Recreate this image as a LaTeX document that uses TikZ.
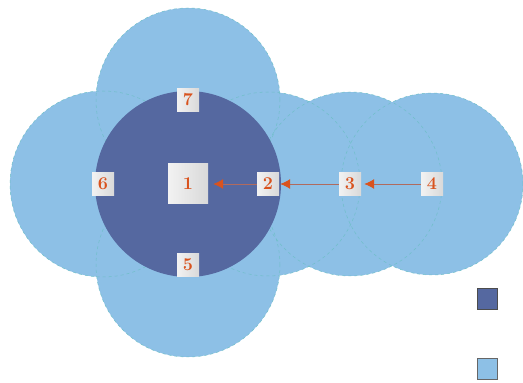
\documentclass[tikz,border=0pt]{standalone}
\usepackage{xcolor}
\usetikzlibrary{arrows.meta}
\definecolor{cellblue}{HTML}{8DC0E6}
\definecolor{cellrim}{HTML}{6FBFC8}
\definecolor{coreblue}{HTML}{5568A0}
\definecolor{numred}{HTML}{D9531E}
\definecolor{linkred}{HTML}{B06A5E}
\begin{document}
\begin{tikzpicture}[x=1pt,y=1pt,
  lbl/.style={inner sep=0pt,minimum width=22pt,minimum height=23pt,
    left color=gray!10,right color=gray!30,text=numred,
    font=\fontsize{18}{20}\selectfont\bfseries},
  hub/.style={lbl,minimum width=40pt,minimum height=40pt},
  link/.style={draw=linkred,line width=0.9pt,shorten >=3pt,
    -{Latex[length=10pt,width=10pt,color=numred]}},
  rim/.style={draw=cellrim,dashed,line width=0.5pt}]
  \useasboundingbox (0,0) rectangle (523,383);
  % cell centres
  \coordinate (p1) at (188,199);
  \coordinate (p2) at (268,199);
  \coordinate (p3) at (350,199);
  \coordinate (p4) at (432,199);
  \coordinate (p5) at (188,118);
  \coordinate (p6) at (103,199);
  \coordinate (p7) at (188,283);
  % neighbour cells
  \fill[cellblue] (p7) circle (92);
  \fill[cellblue] (p5) circle (92);
  \fill[cellblue] (p6) circle (93);
  \fill[cellblue] (p2) circle (92);
  \fill[cellblue] (p3) circle (92);
  \fill[cellblue] (p4) circle (91);
  \draw[rim] (p7) circle (92);
  \draw[rim] (p5) circle (92);
  \draw[rim] (p6) circle (93);
  \draw[rim] (p2) circle (92);
  \draw[rim] (p3) circle (92);
  \draw[rim] (p4) circle (91);
  % serving cell
  \fill[coreblue] (p1) circle (93);
  % labels
  \node[hub] (n1) at (p1) {1};
  \node[lbl] (n2) at (p2) {2};
  \node[lbl] (n3) at (p3) {3};
  \node[lbl] (n4) at (p4) {4};
  \node[lbl] (n5) at (p5) {5};
  \node[lbl] (n6) at (p6) {6};
  \node[lbl] (n7) at (p7) {7};
  \draw[link] (n4) -- (n3);
  \draw[link,shorten >=1pt] (n3) -- (n2);
  \draw[link,shorten >=5pt] (n2) -- (n1);
  % legend
  \node[draw=black!70,fill=coreblue,minimum width=20pt,minimum height=21pt,inner sep=0pt] (kcore) at (487,84) {};
  \node[draw=black!60,fill=cellblue,minimum width=20pt,minimum height=21pt,inner sep=0pt] (kcell) at (487,14) {};
\end{tikzpicture}
\end{document}
